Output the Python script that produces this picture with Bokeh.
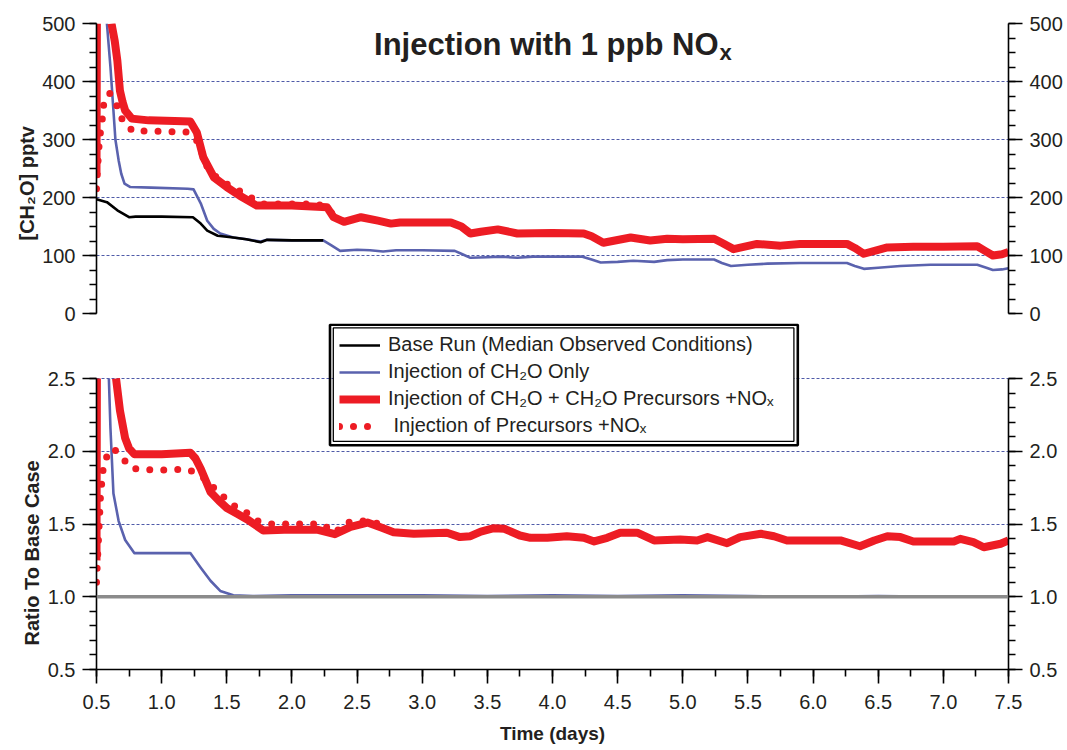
from bokeh.plotting import figure
from bokeh.models import (Range1d, LinearAxis, SingleIntervalTicker, PrintfTickFormatter,
                          Label, Legend, LegendItem, Span, BoxAnnotation, Title)
from bokeh.layouts import column
from bokeh.embed import file_html
from bokeh.resources import INLINE

nan = float("nan")

# ---------------- data: top panel, [CH2O] pptv ----------------
base_x = [0.50, 0.58, 0.66, 0.75, 0.80, 1.00, 1.24, 1.30, 1.35, 1.43, 1.55, 1.65, 1.76, 1.81, 2.00, 2.24]
base_y = [197, 192, 178, 166, 167, 167, 166, 155, 143, 134, 131, 128, 123, 127, 126, 126]

ch2o_x = [0.58, 0.607, 0.63, 0.645, 0.67, 0.69, 0.715, 0.76, 0.92, 1.20,
          1.245, 1.30, 1.35, 1.40, 1.45, 1.55, 1.65, 1.76, 1.81, 2.00,
          2.24, 2.30, 2.37, 2.50, 2.60, 2.70, 2.80, 3.00, 3.25, 3.30,
          3.37, 3.50, 3.60, 3.73, 3.85, 4.00, 4.23, 4.30, 4.37, 4.50,
          4.62, 4.78, 4.88, 5.00, 5.24, 5.30, 5.37, 5.50, 5.65, 5.90,
          6.26, 6.32, 6.39, 6.50, 6.67, 6.90, 7.26, 7.33, 7.38, 7.45,
          7.50]
ch2o_y = [500, 425, 350, 300, 264, 241, 224, 218, 217, 215,
          214, 190, 160, 146, 138, 131, 128, 124, 127, 126,
          126, 118, 108, 110, 109, 107, 109, 109, 108, 103,
          96, 97, 98, 96, 98, 98, 98, 93, 88, 89,
          91, 89, 92, 93, 93, 87, 82, 84, 86, 87,
          87, 82, 77, 79, 82, 84, 84, 79, 75, 76,
          78]

full_x = [0.50, 0.503, nan, 0.615, 0.64, 0.66, 0.68, 0.70, 0.72, 0.77,
          0.90, 1.10, 1.22, 1.27, 1.32, 1.40, 1.50, 1.60, 1.73, 2.00,
          2.27, 2.32, 2.40, 2.53, 2.66, 2.76, 2.83, 3.00, 3.22, 3.30,
          3.37, 3.45, 3.58, 3.73, 4.00, 4.24, 4.30, 4.39, 4.60, 4.75,
          4.88, 5.00, 5.24, 5.30, 5.39, 5.57, 5.75, 5.90, 6.26, 6.32,
          6.39, 6.57, 6.77, 7.00, 7.26, 7.32, 7.38, 7.45, 7.50]
full_y = [240, 500, nan, 500, 470, 436, 384, 365, 350, 336,
          333, 332, 331, 312, 269, 235, 218, 203, 186, 186,
          183, 166, 158, 166, 160, 155, 157, 157, 157, 150,
          138, 141, 145, 138, 139, 138, 133, 122, 131, 126,
          129, 128, 129, 122, 111, 120, 117, 120, 120, 113,
          103, 114, 115, 115, 116, 108, 100, 102, 106]

prec_x = [0.50, 0.505, 0.51, 0.515, 0.52, 0.53, 0.545, 0.555, 0.60, 0.66,
          0.70, 0.78, 0.88, 1.00, 1.10, 1.20, 1.285, 1.32, 1.36, 1.45,
          1.57, 1.67, 1.77, 1.87, 2.00, 2.10, 2.20, 2.30, 2.40]
prec_y = [215, 235, 255, 275, 290, 312, 336, 360, 380, 357,
          333, 314, 315, 314, 313, 313, 295, 269, 247, 229,
          215, 202, 189, 189, 189, 189, 189, 174, 158]

# ---------------- data: bottom panel, ratio to base case ----------------
r_base_x = [0.50, 7.50]
r_base_y = [1.0, 1.0]

r_ch2o_x = [0.595, 0.607, 0.63, 0.67, 0.72, 0.79, 1.00, 1.22, 1.30, 1.375,
            1.45, 1.55, 1.70, 2.00, 2.50, 3.00, 3.50, 4.00, 4.50, 5.00,
            5.50, 6.00, 6.50, 7.00, 7.50]
r_ch2o_y = [2.5, 2.16, 1.71, 1.52, 1.39, 1.30, 1.30, 1.30, 1.20, 1.11,
            1.04, 1.01, 1.005, 1.01, 1.01, 1.01, 1.005, 1.01, 1.005, 1.01,
            1.005, 1.00, 1.005, 1.00, 1.00]

r_full_x = [0.50, 0.503, nan, 0.65, 0.68, 0.72, 0.75, 0.79, 1.00, 1.22,
            1.26, 1.30, 1.375, 1.44, 1.50, 1.58, 1.66, 1.78, 1.94, 2.20,
            2.33, 2.45, 2.58, 2.68, 2.78, 2.935, 3.19, 3.29, 3.37, 3.45,
            3.55, 3.63, 3.75, 3.83, 3.96, 4.11, 4.24, 4.32, 4.42, 4.52,
            4.65, 4.78, 4.98, 5.11, 5.19, 5.34, 5.44, 5.60, 5.70, 5.80,
            6.03, 6.21, 6.36, 6.47, 6.57, 6.67, 6.77, 7.08, 7.13, 7.23,
            7.31, 7.44, 7.50]
r_full_y = [1.25, 2.5, nan, 2.5, 2.28, 2.09, 2.02, 1.98, 1.98, 1.99,
            1.95, 1.88, 1.72, 1.66, 1.61, 1.57, 1.53, 1.455, 1.46, 1.46,
            1.43, 1.48, 1.51, 1.478, 1.444, 1.433, 1.44, 1.41, 1.416, 1.448,
            1.471, 1.467, 1.421, 1.405, 1.405, 1.416, 1.405, 1.38, 1.405, 1.44,
            1.44, 1.387, 1.393, 1.387, 1.41, 1.368, 1.41, 1.433, 1.416, 1.387,
            1.387, 1.387, 1.347, 1.387, 1.416, 1.41, 1.38, 1.38, 1.398, 1.375,
            1.34, 1.364, 1.387]

r_prec_x = [0.50, 0.505, 0.51, 0.515, 0.52, 0.525, 0.53, 0.54, 0.55, 0.577,
            0.63, 0.70, 0.78, 0.88, 0.985, 1.09, 1.20, 1.27, 1.35, 1.42,
            1.51, 1.58, 1.67, 1.74, 1.84, 1.94, 2.04, 2.14, 2.23, 2.33,
            2.42, 2.50, 2.60, 2.70]
r_prec_y = [1.10, 1.20, 1.30, 1.39, 1.49, 1.58, 1.68, 1.78, 1.87, 1.96,
            2.02, 1.95, 1.88, 1.875, 1.87, 1.875, 1.875, 1.85, 1.80, 1.73,
            1.66, 1.61, 1.57, 1.52, 1.50, 1.50, 1.50, 1.50, 1.50, 1.44,
            1.51, 1.52, 1.52, 1.49]

legend_labels = ["Base Run (Median Observed Conditions)",
                 "Injection of CH\u2082O Only",
                 "Injection of CH\u2082O + CH\u2082O Precursors +NO\u2093",
                 " Injection of Precursors +NO\u2093"]

# ---------------- styles ----------------
FONT = "Liberation Sans"
TXT = "#231f20"
RED = "#ed1c24"
BLUE = "#5a62ae"
GRID = "#4f5aa8"
GREY = "#8b8b8b"

W = 1067
LEFT, RIGHT = 96, 59
FRAME_W = W - LEFT - RIGHT
X0, X1 = 0.5, 7.5


def style_axis(ax, ticker, fmt=None):
    ax.ticker = ticker
    if fmt is not None:
        ax.formatter = fmt
    ax.axis_line_color = "black"
    ax.axis_line_width = 1.6
    ax.major_tick_line_color = "black"
    ax.major_tick_line_width = 1.6
    ax.minor_tick_line_color = "black"
    ax.minor_tick_line_width = 1.6
    ax.major_tick_in = 0
    ax.major_tick_out = 14
    ax.minor_tick_in = 0
    ax.minor_tick_out = 7
    ax.major_label_text_font = FONT
    ax.major_label_text_font_size = "20px"
    ax.major_label_text_color = TXT
    ax.major_label_standoff = 7


def style_grid(p, ticker):
    p.xgrid.visible = False
    p.ygrid.ticker = ticker
    p.ygrid.grid_line_color = GRID
    p.ygrid.grid_line_width = 1
    p.ygrid.grid_line_dash = "3 2"


def side_title(text, offset):
    # align="left" on the left side anchors the text start at (frame bottom - offset)
    return Title(text=text, align="left", offset=offset, standoff=4,
                 text_font=FONT, text_font_style="bold", text_font_size="20px", text_color=TXT)


# ---------------- top panel ----------------
p1 = figure(width=W, height=323, x_range=Range1d(X0, X1), y_range=Range1d(0, 500),
            x_axis_location=None, y_axis_location="left",
            output_backend="svg", toolbar_location=None,
            min_border_left=LEFT, min_border_right=RIGHT, min_border_top=23, min_border_bottom=10,
            outline_line_color=None)
yt1 = SingleIntervalTicker(interval=100, num_minor_ticks=4)
style_axis(p1.yaxis[0], yt1)
ra1 = LinearAxis()
style_axis(ra1, yt1)
p1.add_layout(ra1, "right")
style_grid(p1, yt1)
p1.add_layout(side_title("[CH\u2082O] pptv", 73), "left")

p1.line(ch2o_x, ch2o_y, line_color=BLUE, line_width=2.6, line_join="round")
p1.line(base_x, base_y, line_color="black", line_width=2.6, line_join="round")
p1.line(full_x, full_y, line_color=RED, line_width=8, line_join="round")
p1.line(prec_x, prec_y, line_color=RED, line_width=7, line_dash="0 14", line_cap="round")

p1.add_layout(Label(x=622, y=269, x_units="screen", y_units="screen",
                    text="Injection with 1 ppb NO", text_align="right", text_baseline="alphabetic",
                    text_font=FONT, text_font_style="bold", text_font_size="31px", text_color=TXT))
p1.add_layout(Label(x=623, y=261, x_units="screen", y_units="screen",
                    text="x", text_align="left", text_baseline="alphabetic",
                    text_font=FONT, text_font_style="bold", text_font_size="22px", text_color=TXT))

# ---------------- bottom panel ----------------
FRAME2_H = 346
PX_PER_UNIT = 145.5
y2_top = 0.5 + FRAME2_H / PX_PER_UNIT
p2 = figure(width=W, height=426, x_range=p1.x_range, y_range=Range1d(0.5, y2_top),
            output_backend="svg", toolbar_location=None,
            min_border_left=LEFT, min_border_right=RIGHT, min_border_top=0, min_border_bottom=80,
            outline_line_color=None)
yt2 = SingleIntervalTicker(interval=0.5, num_minor_ticks=5)
fmt = PrintfTickFormatter(format="%.1f")
style_axis(p2.yaxis[0], yt2, fmt)
p2.yaxis[0].bounds = (0.5, 2.5)
ra2 = LinearAxis(bounds=(0.5, 2.5))
style_axis(ra2, yt2, fmt)
p2.add_layout(ra2, "right")
xt = SingleIntervalTicker(interval=0.5, num_minor_ticks=2)
style_axis(p2.xaxis[0], xt, fmt)
p2.xaxis[0].major_label_standoff = 11
p2.xaxis[0].axis_label = "Time (days)"
p2.xaxis[0].axis_label_text_font = FONT
p2.xaxis[0].axis_label_text_font_style = "bold"
p2.xaxis[0].axis_label_text_font_size = "19px"
p2.xaxis[0].axis_label_text_color = TXT
p2.xaxis[0].axis_label_standoff = 11
style_grid(p2, yt2)
p2.add_layout(side_title("Ratio To Base Case", 24), "left")

r_black = p2.line(r_base_x, r_base_y, line_color="black", line_width=2.4)
r_blue = p2.line(r_ch2o_x, r_ch2o_y, line_color=BLUE, line_width=2.6, line_join="round")
r_red = p2.line(r_full_x, r_full_y, line_color=RED, line_width=8, line_join="round")
r_dot = p2.line(r_prec_x, r_prec_y, line_color=RED, line_width=7, line_dash="0 14", line_cap="round")
p2.add_layout(Span(location=1.0, dimension="width", line_color=GREY, line_width=3.4))

# legend frame (double border), given in pixels of the bottom frame
ux = FRAME_W / (X1 - X0)
FRAME2_LEFT_PX, FRAME2_BOTTOM_PX = 96, 669


def bx(px):
    return X0 + (px - FRAME2_LEFT_PX) / ux


def by(py):
    return 0.5 + (FRAME2_BOTTOM_PX - py) / PX_PER_UNIT


OUTER = (329.5, 797.3, 324.3, 444.7)   # left, right, top, bottom
INNER = (332.8, 793.4, 327.4, 440.8)
p2.add_layout(BoxAnnotation(left=bx(OUTER[0]), right=bx(OUTER[1]), top=by(OUTER[2]), bottom=by(OUTER[3]),
                            fill_alpha=0, line_color="black", line_width=2.6, line_alpha=1))
p2.add_layout(BoxAnnotation(left=bx(INNER[0]), right=bx(INNER[1]), top=by(INNER[2]), bottom=by(INNER[3]),
                            fill_color="white", fill_alpha=1, line_color="black", line_width=1.3,
                            line_alpha=1))

legend = Legend(items=[LegendItem(label=legend_labels[0], renderers=[r_black]),
                       LegendItem(label=legend_labels[1], renderers=[r_blue]),
                       LegendItem(label=legend_labels[2], renderers=[r_red]),
                       LegendItem(label=legend_labels[3], renderers=[r_dot])],
                location=(235, 224), margin=0, padding=8, spacing=4,
                label_standoff=8, glyph_width=41, glyph_height=20, label_height=20,
                label_text_font=FONT, label_text_font_size="20px", label_text_color=TXT,
                border_line_alpha=0, background_fill_alpha=0)
p2.add_layout(legend)

layout = column(p1, p2)
open("out.html", "w").write(file_html(layout, INLINE))
